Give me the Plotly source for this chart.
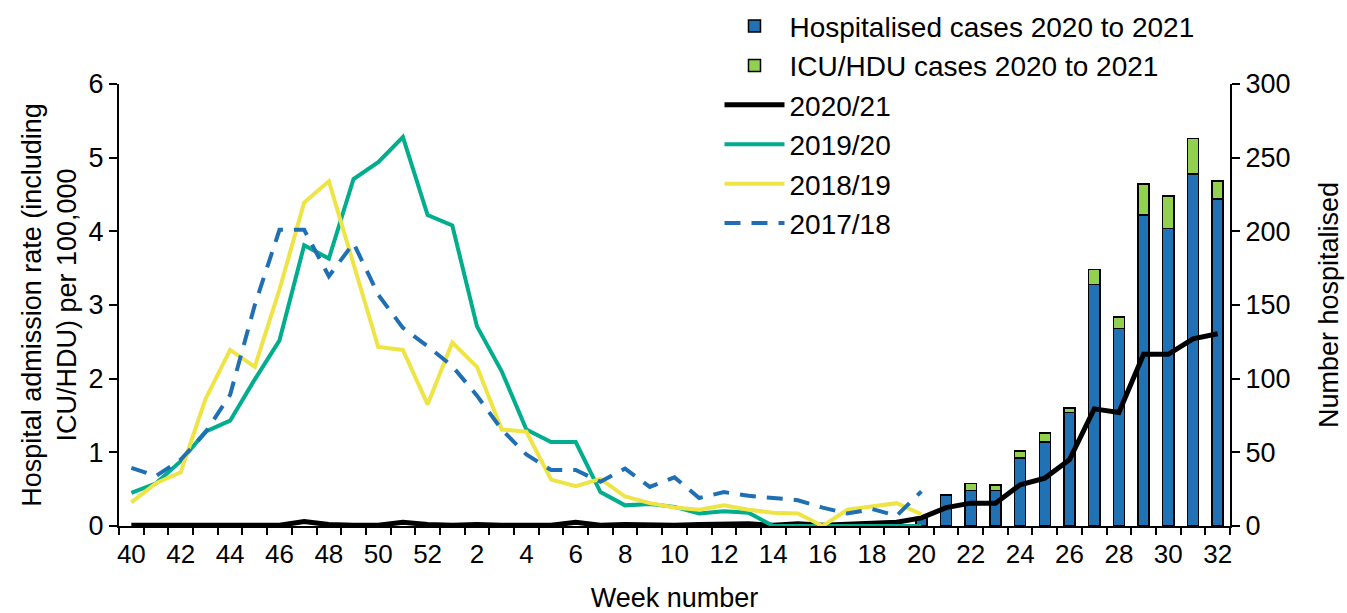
import plotly.graph_objects as go

weeks = [str(w) for w in list(range(40, 53)) + list(range(1, 33))]
tick_text = [w if int(w) % 2 == 0 else "" for w in weeks]

rate_2019_20 = [0.45, 0.58, 0.88, 1.28, 1.43, 1.99, 2.52, 3.81, 3.63, 4.71, 4.94, 5.28, 4.22,
                4.08, 2.71, 2.10, 1.31, 1.14, 1.14, 0.46, 0.28, 0.30, 0.26, 0.17, 0.20, 0.18,
                0.0, 0.0, 0.0, 0.0, 0.0, 0.0, 0.0] + [None] * 12
rate_2018_19 = [0.32, 0.58, 0.73, 1.72, 2.39, 2.16, 3.21, 4.39, 4.68, 3.55, 2.43, 2.39, 1.65,
                2.49, 2.16, 1.31, 1.28, 0.63, 0.54, 0.64, 0.40, 0.31, 0.25, 0.22, 0.28, 0.22,
                0.18, 0.17, 0.0, 0.22, 0.27, 0.31, 0.16] + [None] * 12
rate_2017_18 = [0.79, 0.68, 0.90, 1.27, 1.78, 3.00, 4.02, 4.02, 3.39, 3.84, 3.14, 2.69, 2.44,
                2.17, 1.77, 1.31, 0.97, 0.76, 0.76, 0.60, 0.78, 0.53, 0.66, 0.38, 0.46, 0.41,
                0.38, 0.35, 0.25, 0.17, 0.23, 0.14, 0.47] + [None] * 12
rate_2020_21 = [0.01, 0.01, 0.01, 0.01, 0.02, 0.01, 0.01, 0.06, 0.02, 0.01, 0.01, 0.05, 0.02,
                0.01, 0.02, 0.01, 0.01, 0.01, 0.05, 0.01, 0.02, 0.01, 0.01, 0.02, 0.02, 0.03,
                0.01, 0.03, 0.01, 0.02, 0.03, 0.05, 0.11, 0.25, 0.31, 0.31, 0.56, 0.65, 0.90,
                1.59, 1.54, 2.33, 2.33, 2.54, 2.61]
hospitalised = [None] * 32 + [5, 21, 24, 24, 46, 57, 77, 164, 134, 211, 202, 239, 222]
icu_hdu = [None] * 32 + [0, 0, 5, 4, 5, 6, 3, 10, 8, 21, 22, 24, 12]

FONT = "Liberation Sans, Arial, sans-serif"

fig = go.Figure()
fig.add_trace(go.Bar(x=weeks, y=hospitalised, name="Hospitalised cases 2020 to 2021",
                     marker=dict(color="#2171B5", line=dict(color="black", width=1.5)),
                     width=0.45, yaxis="y", legendgroup="a"))
fig.add_trace(go.Bar(x=weeks, y=icu_hdu, name="ICU/HDU cases 2020 to 2021",
                     marker=dict(color="#92D050", line=dict(color="black", width=1.5)),
                     width=0.45, yaxis="y", legendgroup="b"))
fig.add_trace(go.Scatter(x=weeks, y=rate_2020_21, name="2020/21", mode="lines",
                         line=dict(color="black", width=5), yaxis="y2", legendgroup="c"))
fig.add_trace(go.Scatter(x=weeks, y=rate_2019_20, name="2019/20", mode="lines",
                         line=dict(color="#00AD8C", width=4), yaxis="y2", legendgroup="d"))
fig.add_trace(go.Scatter(x=weeks, y=rate_2018_19, name="2018/19", mode="lines",
                         line=dict(color="#EFE445", width=4), yaxis="y2", legendgroup="e"))
fig.add_trace(go.Scatter(x=weeks, y=rate_2017_18, name="2017/18", mode="lines",
                         line=dict(color="#1F6FB5", width=4, dash="16px,11px"), yaxis="y2",
                         legendgroup="f"))

fig.update_layout(
    width=1347, height=613,
    margin=dict(l=119, r=117, t=84, b=87, autoexpand=False),
    paper_bgcolor="white", plot_bgcolor="white",
    font=dict(family=FONT, size=27, color="black"),
    barmode="stack",
    showlegend=True,
    legend=dict(x=0.5405, y=1.187, xanchor="left", yanchor="top", bgcolor="rgba(0,0,0,0)",
                font=dict(size=28), traceorder="grouped", tracegroupgap=0, itemwidth=60),
    xaxis=dict(type="category", categoryorder="array", categoryarray=weeks,
               tickmode="array", tickvals=weeks, ticktext=tick_text, tickangle=0,
               tickson="boundaries", ticks="outside", ticklen=7, tickwidth=1.5,
               tickcolor="black", showline=True, linecolor="black", linewidth=2,
               showgrid=False, zeroline=False, ticklabelstandoff=4,
               title=dict(text="Week number", font=dict(size=27), standoff=24),
               tickfont=dict(size=26)),
    yaxis=dict(side="right", range=[0, 300], dtick=50, ticks="outside", ticklen=8,
               tickwidth=1.5, tickcolor="black", showline=True, linecolor="black",
               linewidth=2, showgrid=False, zeroline=False,
               title=dict(text="Number hospitalised", font=dict(size=27), standoff=30),
               tickfont=dict(size=27)),
    yaxis2=dict(overlaying="y", side="left", range=[0, 6], dtick=1, ticks="outside",
                ticklen=8, tickwidth=1.5, tickcolor="black", showline=True,
                linecolor="black", linewidth=2, showgrid=False, zeroline=False,
                title=dict(text="Hospital admission rate (including<br>ICU/HDU) per 100,000",
                           font=dict(size=27), standoff=4),
                tickfont=dict(size=27)),
)

fig.write_html("out.html", post_script="document.body.style.margin='0';",
               config={"displayModeBar": False})
